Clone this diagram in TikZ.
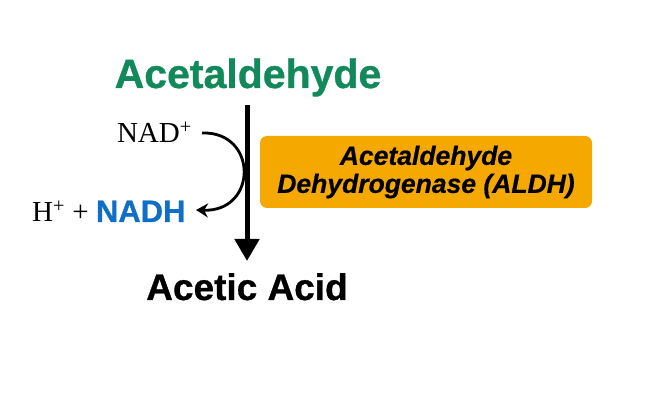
\documentclass[tikz,border=0pt]{standalone}
\usepackage{fontspec}
\setmainfont{Liberation Serif}
\setsansfont{Liberation Sans}
\newfontfamily\heavysans{Liberation Sans Bold}[FakeBold=0.8]
\newfontfamily\heavyital{Liberation Sans Bold Italic}[FakeBold=0.5]
\usetikzlibrary{arrows.meta}
\definecolor{acgreen}{HTML}{12895A}
\definecolor{nadblue}{HTML}{0F6FC6}
\definecolor{enzorange}{HTML}{F5A800}
\tikzset{
  title/.style={font=\heavysans\fontsize{41}{44}\selectfont, inner sep=0pt},
  product/.style={font=\heavysans\fontsize{37}{40}\selectfont, inner sep=0pt},
  cofactor/.style={font=\rmfamily\fontsize{29}{31}\selectfont, inner sep=0pt},
  enzyme/.style={rectangle, rounded corners=7pt, fill=enzorange, minimum width=332pt, minimum height=72pt, inner sep=0pt, align=center, font=\heavyital\fontsize{26.5}{28}\selectfont},
  mainarrow/.style={line width=5pt, -{Triangle[width=24pt,length=22pt]}},
  sidearrow/.style={line width=2.8pt, -{Stealth[width=14pt,length=12pt]}}
}
\begin{document}
\begin{tikzpicture}[x=1pt,y=-1pt]
\useasboundingbox (0,0) rectangle (662,406);
\node[title, text=acgreen, anchor=base] (ald) at (248,88) {Acetaldehyde};
\node[product, anchor=base] (acid) at (247,300) {Acetic Acid};
\coordinate (top) at (247,105);
\coordinate (bot) at (247,261);
\draw[mainarrow] (top) -- (bot);
\node[cofactor, anchor=base east] (nad) at (192,143) {NAD\textsuperscript{+}};
\node[cofactor, anchor=base west] (nadh) at (32,222) {H\textsuperscript{+} + {\heavysans\fontsize{31}{33}\selectfont\color{nadblue}NADH}};
\coordinate (s) at (202,133);
\coordinate (e) at (196,210);
\draw[sidearrow] (s) .. controls (258,131) and (258,212) .. (e);
\node[enzyme] (enz) at (426,172) {Acetaldehyde\\Dehydrogenase (ALDH)};
\end{tikzpicture}
\end{document}
